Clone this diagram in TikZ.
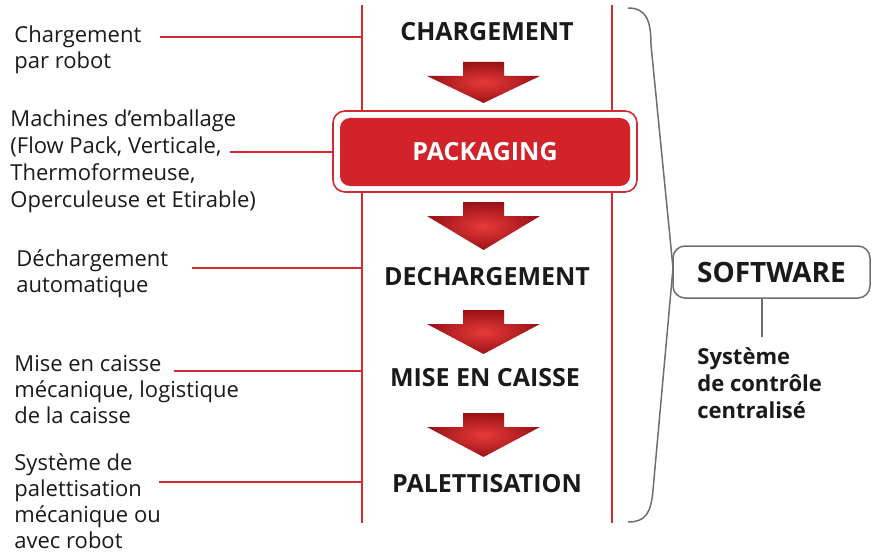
\documentclass[tikz,border=0pt]{standalone}
\usepackage{fontspec}
\setmainfont{Open Sans}
\usepackage{tikz}
\usetikzlibrary{positioning, calc}
\definecolor{packred}{HTML}{D2232A}
\definecolor{linkred}{HTML}{D42A30}
\definecolor{arrowhi}{HTML}{E83A3A}
\definecolor{arrowlo}{HTML}{9A1216}
\definecolor{bracegray}{HTML}{6E6E6E}
\definecolor{inkblack}{HTML}{1A1A1A}

\tikzset{
  note/.style={anchor=west, align=left, inner sep=0pt, text=inkblack,
               font=\fontsize{11}{13}\selectfont},
  stage/.style={inner sep=0pt, text=inkblack, font=\fontsize{12.5}{15}\selectfont\bfseries},
  link/.style={linkred, line width=0.75pt},
  graylink/.style={bracegray, line width=0.75pt},
  flowarrow/.style={inner color=arrowhi, outer color=arrowlo},
}

\begin{document}
\begin{tikzpicture}[x=0.5pt, y=-0.5pt]
  \useasboundingbox (0,0) rectangle (877,551);

  % ===== Rails =====
  \coordinate (railLtop) at (362,5);
  \coordinate (railLbot) at (362,523);
  \coordinate (railRtop) at (612,5);
  \coordinate (railRbot) at (612,523);
  \draw[link] (railLtop) -- (railLbot);
  \draw[link] (railRtop) -- (railRbot);

  % ===== Brace towards software =====
  \draw[graylink] (628,8) .. controls (646,8) and (651,20) .. (651,45)
        -- (673,268) -- (653,490) .. controls (651,514) and (645,522) .. (628,522);

  % ===== Packaging box =====
  \node[draw=linkred, line width=0.8pt, fill=white, rounded corners=6pt,
        minimum width=152pt, minimum height=40.5pt] (packframe) at (485,151.5) {};
  \node[fill=packred, rounded corners=5pt, minimum width=145pt, minimum height=34pt,
        text=white, font=\fontsize{12.5}{15}\selectfont\bfseries] (packaging) at (485,152) {PACKAGING};

  % ===== Stages =====
  \node[stage] (charg) at (487,32) {CHARGEMENT};
  \node[stage] (decharg) at (487,277) {DECHARGEMENT};
  \node[stage] (caisse) at (485,378) {MISE EN CAISSE};
  \node[stage] (palette) at (487,484) {PALETTISATION};

  % Arrows between stages
  \foreach \t/\b in {62/103, 202/250, 310/354, 413/457} {
    \shade[flowarrow] (463,\t) -- (504,\t) -- (504,\t+14) -- (540,\t+14)
          -- (483.5,\b) -- (427,\t+14) -- (463,\t+14) -- cycle;
  }

  % ===== Left notes =====
  \node[note] (chargnote) at (14,50) {Chargement\\par robot};
  \node[note, font=\fontsize{11}{13.5}\selectfont] (machnote) at (10,161)
        {Machines d’emballage\\(Flow Pack, Verticale,\\Thermoformeuse,\\Operculeuse et Etirable)};
  \node[note] (dechnote) at (16,274) {Déchargement\\automatique};
  \node[note] (caissenote) at (14,390) {Mise en caisse\\mécanique, logistique\\de la caisse};
  \node[note] (palnote) at (14,501) {Système de\\palettisation\\mécanique ou\\avec robot};

  \coordinate (chargtip) at (160,37);
  \coordinate (machtip) at (230,152);
  \coordinate (dechtip) at (192,268);
  \coordinate (caissetip) at (174,371);
  \coordinate (paltip) at (159,482);
  \draw[link] (chargtip) -- (chargtip -| railLtop);
  \draw[link] (machtip) -- (machtip -| packframe.west);
  \draw[link] (dechtip) -- (dechtip -| railLtop);
  \draw[link] (caissetip) -- (caissetip -| railLtop);
  \draw[link] (paltip) -- (paltip -| railLtop);

  % ===== Software =====
  \node[draw=bracegray, line width=0.75pt, rounded corners=6pt, fill=white,
        minimum width=98.5pt, minimum height=26pt, inner sep=0pt, text=inkblack,
        font=\fontsize{14}{16}\selectfont\bfseries] (software) at (771.5,272) {SOFTWARE};
  \node[note, align=left, font=\fontsize{11}{13.5}\selectfont\bfseries] (control) at (697,383)
        {Système\\de contrôle\\centralisé};
  \draw[graylink, shorten >=5pt] ([xshift=-4.75pt]software.south)
        -- ([xshift=-4.75pt]software.south |- control.north);
\end{tikzpicture}
\end{document}
